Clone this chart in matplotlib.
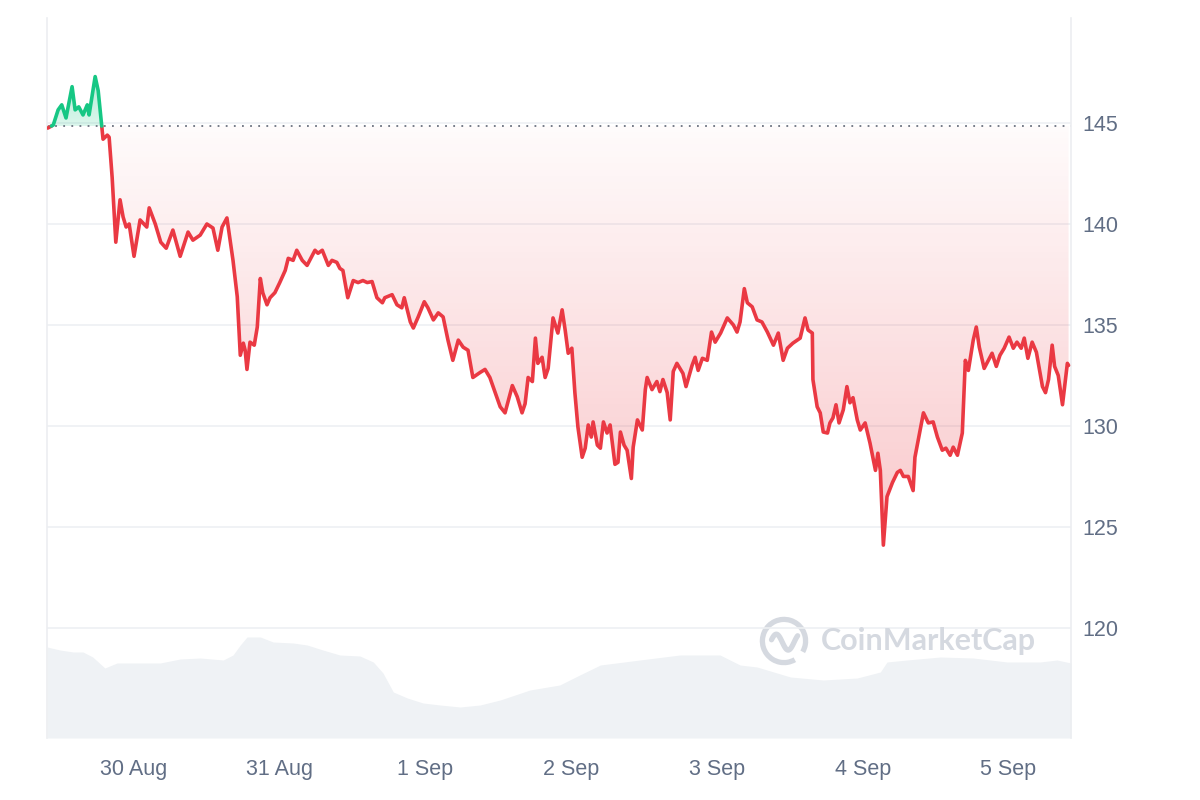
import matplotlib.pyplot as plt
import numpy as np
from matplotlib.patches import Polygon, Arc
from matplotlib.colors import LinearSegmentedColormap

plt.rcParams["font.family"] = ["Liberation Sans", "DejaVu Sans"]

# hours since 29 Aug 00:00
hours = [9.8, 10.7, 11.5, 12.1, 12.8, 13.8, 14.3, 14.9, 15.6, 16.3, 16.6, 17.6, 18.1, 18.7, 18.9,
         19.6, 19.9, 20.4, 21.0, 21.7, 22.2, 22.7, 23.2, 24.0, 25.0, 26.1, 26.5, 27.5, 28.4, 29.3,
         30.4, 31.6, 32.9, 33.7, 34.9, 36.0, 37.0, 37.8, 38.5, 39.3, 40.3, 41.0, 41.5, 42.0, 42.3,
         42.6, 43.1, 43.8, 44.3, 44.8, 45.2, 45.9, 46.4, 47.2, 48.0, 48.9, 49.4, 50.2, 50.8, 51.7,
         52.5, 53.8, 54.3, 55.0, 56.0, 56.6, 57.4, 57.9, 58.4, 59.2, 60.1, 60.9, 61.7, 62.4, 63.2,
         64.0, 64.9, 65.3, 66.5, 67.3, 68.1, 68.5, 69.5, 70.0, 70.8, 71.8, 72.4, 73.3, 74.1, 74.9,
         75.7, 76.5, 77.4, 78.2, 79.0, 79.8, 81.0, 81.8, 82.6, 84.3, 85.1, 86.3, 87.1, 87.9, 88.4,
         88.9, 89.6, 90.1, 90.5, 91.2, 91.7, 92.2, 93.0, 93.8, 94.5, 95.0, 95.5, 96.1, 96.6, 97.1,
         97.8, 98.3, 98.8, 99.3, 99.6, 100.3, 100.8, 101.3, 101.9, 102.4, 103.2, 103.7, 104.1, 104.7,
         105.2, 105.9, 106.2, 106.9, 107.7, 108.2, 108.5, 109.3, 110.1, 110.6, 111.1, 111.8, 112.3,
         112.8, 113.4, 113.9, 114.4, 114.9, 115.9, 116.4, 116.9, 117.6, 118.4, 119.1, 119.7, 120.6,
         121.7, 122.7, 123.3, 123.8, 124.5, 125.0, 125.8, 126.6, 127.4, 128.3, 129.3, 130.1, 130.9,
         131.6, 132.5, 133.7, 134.5, 135.0, 135.7, 135.8, 136.5, 137.0, 137.5, 138.2, 138.6, 139.1,
         139.6, 140.1, 140.8, 141.4, 141.9, 142.4, 143.1, 143.6, 144.4, 145.2, 146.1, 146.5, 146.9,
         147.4, 148.0, 148.9, 149.7, 150.2, 150.7, 151.5, 152.3, 152.6, 153.3, 154.0, 154.8, 155.6,
         156.3, 157.1, 157.7, 158.4, 158.9, 159.6, 160.4, 160.9, 161.4, 162.2, 162.7, 163.2, 164.0,
         164.7, 165.3, 166.0, 166.6, 167.3, 168.1, 168.8, 169.4, 170.1, 170.6, 171.2, 171.9, 172.6,
         173.6, 174.1, 174.6, 175.2, 175.6, 176.2, 176.9, 177.7, 177.9]
prices = [144.75, 144.9, 145.65, 145.9, 145.25, 146.8, 145.65, 145.8, 145.4, 145.9, 145.4, 147.3,
          146.6, 144.8, 144.2, 144.4, 144.3, 142.3, 139.1, 141.2, 140.35, 139.85, 140.0, 138.4,
          140.2, 139.85, 140.8, 140.0, 139.1, 138.8, 139.7, 138.4, 139.6, 139.2, 139.45, 140.0,
          139.8, 138.7, 139.85, 140.3, 138.2, 136.4, 133.5, 134.1, 133.75, 132.8, 134.15, 134.0,
          134.9, 137.3, 136.6, 136.0, 136.35, 136.6, 137.1, 137.7, 138.3, 138.2, 138.7, 138.2,
          137.95, 138.7, 138.55, 138.7, 137.95, 138.2, 138.1, 137.8, 137.7, 136.35, 137.2, 137.1,
          137.2, 137.1, 137.15, 136.35, 136.1, 136.35, 136.5, 136.0, 135.85, 136.35, 135.15, 134.85,
          135.4, 136.15, 135.85, 135.25, 135.6, 135.4, 134.25, 133.25, 134.25, 133.9, 133.75, 132.4,
          132.65, 132.8, 132.4, 130.95, 130.65, 132.0, 131.45, 130.65, 131.1, 132.4, 132.2, 134.35,
          133.1, 133.4, 132.4, 132.85, 135.35, 134.6, 135.75, 134.75, 133.6, 133.85, 131.65, 129.95,
          128.45, 128.9, 130.05, 129.45, 130.2, 129.05, 128.9, 130.2, 129.65, 130.05, 128.1, 128.2,
          129.7, 129.05, 128.8, 127.4, 128.95, 130.3, 129.8, 131.8, 132.4, 131.8, 132.2, 131.7,
          132.3, 131.65, 130.3, 132.7, 133.1, 132.85, 132.6, 131.95, 133.0, 133.4, 132.75, 133.35,
          133.25, 134.65, 134.15, 134.6, 135.35, 135.0, 134.65, 135.15, 136.8, 136.1, 135.9, 135.25,
          135.15, 134.65, 134.0, 134.6, 133.25, 133.85, 134.1, 134.35, 135.35, 134.75, 134.6, 132.3,
          130.95, 130.65, 129.7, 129.65, 130.15, 130.4, 131.05, 130.15, 130.8, 131.95, 131.15, 131.4,
          130.3, 129.8, 130.15, 129.15, 127.8, 128.65, 127.8, 124.1, 126.5, 127.2, 127.7, 127.8,
          127.5, 127.5, 126.8, 128.45, 129.55, 130.65, 130.15, 130.2, 129.45, 128.8, 128.9, 128.55,
          128.95, 128.55, 129.65, 133.25, 132.75, 134.25, 134.9, 133.9, 132.85, 133.25, 133.6,
          132.95, 133.5, 133.85, 134.4, 133.85, 134.15, 133.85, 134.35, 133.35, 134.15, 133.65,
          131.95, 131.65, 132.3, 134.0, 132.95, 132.5, 131.05, 133.1, 133.0]
open_price = 144.85

vol_hours = [9.7, 11.8, 14.0, 15.6, 17.2, 19.2, 21.2, 25.0, 28.3, 31.6, 34.9, 38.7, 40.3, 41.5,
             42.6, 44.8, 46.9, 50.2, 52.5, 55.1, 57.9, 61.2, 63.4, 65.0, 66.7, 69.0, 71.6, 74.4,
             77.7, 81.0, 84.3, 89.2, 94.1, 97.4, 100.8, 107.3, 113.9, 120.5, 123.8, 126.6, 132.1,
             137.5, 143.1, 146.9, 148.0, 151.3, 156.8, 162.2, 167.8, 173.2, 176.0, 178.3]
volume = [91, 88, 86, 86, 81, 70, 75, 75, 75, 79, 80, 78, 83, 93, 101, 101, 96, 95, 93, 88, 83,
          82, 76, 65, 46, 40, 35, 33, 31, 33, 38, 48, 53, 63, 73, 78, 83, 83, 73, 71, 61, 58, 60,
          66, 76, 78, 81, 80, 76, 76, 78, 75]

tick_hours = [24, 48, 72, 96, 120, 144, 168]
tick_labels = ["30 Aug", "31 Aug", "1 Sep", "2 Sep", "3 Sep", "4 Sep", "5 Sep"]
price_ticks = [120, 125, 130, 135, 140, 145]

RED = "#ea3943"
GREEN = "#16c784"
TXT = "#616e85"

t = np.array(hours)
p = np.array(prices)

# insert crossing points with the open price so the two colours meet cleanly
tt, pp = [t[0]], [p[0]]
for i in range(1, len(t)):
    a, b = p[i - 1] - open_price, p[i] - open_price
    if a * b < 0:
        f = a / (a - b)
        tt.append(t[i - 1] + f * (t[i] - t[i - 1]))
        pp.append(open_price)
    tt.append(t[i])
    pp.append(p[i])
tt, pp = np.array(tt), np.array(pp)

fig = plt.figure(figsize=(12, 8), dpi=100)
ax = fig.add_axes([47 / 1200, 62 / 800, 1024 / 1200, 720 / 800])
ax2 = ax.twinx()
ax.set_zorder(2)
ax.patch.set_visible(False)
ax2.set_zorder(1)

xmin, xmax = 9.67, 178.3
ymin, ymax = 114.55, 150.2

# volume
ax2.fill_between(vol_hours, volume, 0, color="#eff2f5", lw=0)
ax2.set_ylim(0, 720)
ax2.set_yticks([])
for s in ax2.spines.values():
    s.set_visible(False)

# grid
for v in price_ticks:
    ax.axhline(v, color="#eef0f3", lw=1.2, zorder=0)

# gradient fills
below = np.minimum(pp, open_price)
above = np.maximum(pp, open_price)
poly_r = Polygon(np.column_stack([np.r_[tt, tt[::-1]], np.r_[below, np.full(len(tt), open_price)]]),
                 closed=True, fc="none", ec="none")
poly_g = Polygon(np.column_stack([np.r_[tt, tt[::-1]], np.r_[above, np.full(len(tt), open_price)]]),
                 closed=True, fc="none", ec="none")
ax.add_patch(poly_r)
ax.add_patch(poly_g)

cm_r = LinearSegmentedColormap.from_list("r", [(0.918, 0.224, 0.263, 0.02), (0.918, 0.224, 0.263, 0.28)])
grad = np.linspace(0, 1, 256).reshape(-1, 1)
im = ax.imshow(grad, cmap=cm_r, aspect="auto", extent=[xmin, xmax, open_price, 124.0],
               origin="lower", zorder=1, interpolation="bilinear")
im.set_clip_path(poly_r)

cm_g = LinearSegmentedColormap.from_list("g", [(0.086, 0.78, 0.518, 0.15), (0.086, 0.78, 0.518, 0.35)])
im2 = ax.imshow(grad, cmap=cm_g, aspect="auto", extent=[xmin, xmax, open_price, 147.5],
                origin="lower", zorder=1, interpolation="bilinear")
im2.set_clip_path(poly_g)

# open price reference
ax.axhline(open_price, color="#6b7280", lw=1.3, ls=(0, (1, 3.5)), zorder=2)

# price line
ax.plot(tt, np.where(pp <= open_price, pp, np.nan), color=RED, lw=2.6, zorder=3,
        solid_joinstyle="round", solid_capstyle="round")
ax.plot(tt, np.where(pp >= open_price, pp, np.nan), color=GREEN, lw=2.6, zorder=3,
        solid_joinstyle="round", solid_capstyle="round")

ax.set_xlim(xmin, xmax)
ax.set_ylim(ymin, ymax)
ax2.set_xlim(xmin, xmax)

ax.yaxis.tick_right()
ax.set_yticks(price_ticks)
ax.set_yticklabels([str(v) for v in price_ticks])
ax.set_xticks(tick_hours)
ax.set_xticklabels(tick_labels)
ax.tick_params(axis="y", length=0, pad=8, labelsize=15.5, labelcolor=TXT)
ax.tick_params(axis="x", length=0, pad=15, labelsize=15.5, labelcolor=TXT)

for name, s in ax.spines.items():
    if name in ("left", "right"):
        s.set_color("#eceef1")
        s.set_linewidth(1.2)
    else:
        s.set_visible(False)

# watermark
fig.text(821 / 1200, 1 - 641 / 800, "CoinMarketCap", fontsize=22, fontweight="bold",
         color="#d5d9e0", family=["Lato", "DejaVu Sans"], va="center", ha="left", zorder=5)
logo = fig.add_axes([759 / 1200, 1 - 667 / 800, 50 / 1200, 52 / 800])
logo.set_xlim(-1.1, 1.1)
logo.set_ylim(-1.1, 1.1)
logo.set_aspect("equal")
logo.axis("off")
logo.add_patch(Arc((0, 0), 1.9, 1.9, theta1=-30, theta2=300, color="#d5d9e0", lw=3.8))
wave_x = np.linspace(-0.55, 0.6, 60)
wave_y = 0.35 * np.sin((wave_x + 0.55) / 1.15 * 2.2 * np.pi + 0.3) - 0.05
logo.plot(wave_x, wave_y, color="#d5d9e0", lw=3.8, solid_capstyle="round")

fig.savefig("out.png", dpi=100)
